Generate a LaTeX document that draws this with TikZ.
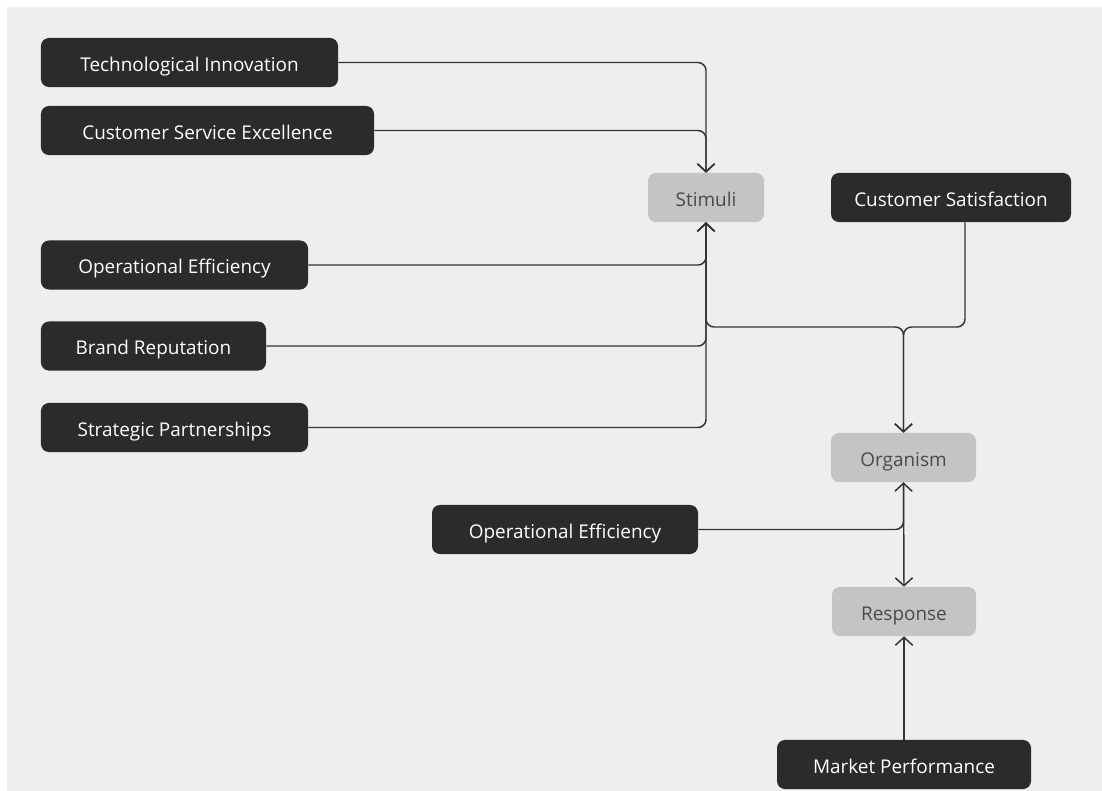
\documentclass[tikz,border=0pt]{standalone}
\usepackage{fontspec}
\setmainfont{Open Sans}
\usepackage{xcolor}
\usepackage{tikz}
\usetikzlibrary{arrows.meta,positioning}

\definecolor{darkbox}{HTML}{2C2A2A}
\definecolor{greybox}{HTML}{C4C4C6}
\definecolor{greytext}{HTML}{4A4A4A}
\definecolor{canvas}{HTML}{EEEEEF}
\definecolor{wire}{HTML}{333333}

\begin{document}
\begin{tikzpicture}[
  x=0.75pt, y=-0.75pt,
  factor/.style={rectangle, rounded corners=6pt, fill=darkbox, text=white, minimum height=36.8pt, inner sep=0pt, text height=12.8pt, text depth=0pt, font=\fontsize{14.2}{17}\selectfont},
  stage/.style={factor, fill=greybox, text=greytext},
  arrow/.style={-{Straight Barb[length=6pt, width=13pt, line width=1.1pt]}, line width=1.1pt, draw=wire, rounded corners=6pt}
]
\useasboundingbox (0,0) rectangle (1102,790);
\fill[white] (-5,-5) rectangle (1110,800);
\fill[canvas] (7,7) rectangle (1110,800);

% left column
\node[factor, minimum width=222.8pt] (tech) at (189.5,62.5) {Technological Innovation};
\node[factor, minimum width=249.8pt] (cse) at (207.5,130.5) {Customer Service Excellence};
\node[factor, minimum width=200.3pt] (opeff) at (174.5,265) {Operational Efficiency};
\node[factor, minimum width=168.8pt] (brand) at (153.5,346) {Brand Reputation};
\node[factor, minimum width=200.3pt] (partner) at (174.5,427.5) {Strategic Partnerships};

% S-O-R chain
\node[stage, minimum width=87pt] (stim) at (706,197.5) {Stimuli};
\node[factor, minimum width=180pt] (satis) at (951,197.5) {Customer Satisfaction};
\node[stage, minimum width=108.8pt] (org) at (903.5,457.5) {Organism};
\node[factor, minimum width=199.5pt] (opeff2) at (565,529.5) {Operational Efficiency};
\node[stage, minimum width=108pt] (resp) at (904,611.5) {Response};
\node[factor, minimum width=190.5pt] (market) at (904,764.5) {Market Performance};

% into stimuli
\draw[arrow] (tech.east) -| (stim.north);
\draw[arrow] (cse.east) -| (stim.north);
\draw[arrow] (opeff.east) -| (stim.south);
\draw[arrow] (brand.east) -| (stim.south);
\draw[arrow] (partner.east) -| (stim.south);

% into organism
\draw[arrow] (stim.south) -- (706,327) -- (903.5,327) -- (org.north);
\draw[arrow] ([xshift=10.5pt]satis.south) -- (965,327) -- (903.5,327) -- (org.north);
\draw[arrow] (opeff2.east) -| (org.south);

% into response
\draw[arrow] (org.south) -- (resp.north);
\draw[arrow] (market.north) -- (resp.south);
\end{tikzpicture}
\end{document}
